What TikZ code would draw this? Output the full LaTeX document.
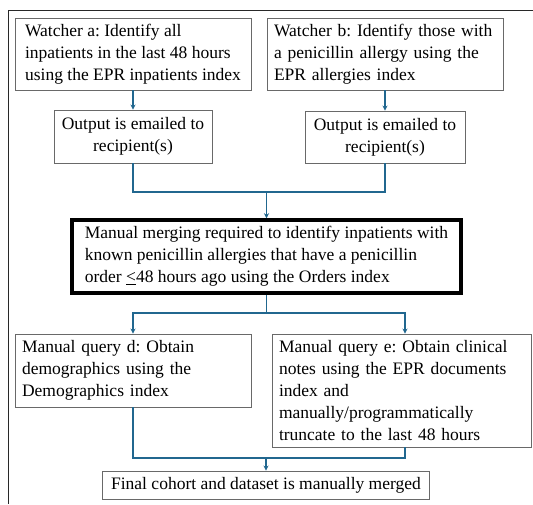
\documentclass[tikz,border=0pt]{standalone}
\usepackage{fontspec}
\setmainfont{Liberation Serif}
\usepackage{tikz}
\usetikzlibrary{arrows.meta,positioning}

\definecolor{linkblue}{RGB}{33,103,143}
\definecolor{boxgray}{RGB}{105,105,105}
\definecolor{framegray}{RGB}{40,40,40}

\tikzset{
  box/.style={draw=boxgray, line width=0.9pt, align=left, inner xsep=7pt, inner ysep=3pt,
    font={\rmfamily\fontsize{17.5}{22}\selectfont\frenchspacing\hyphenpenalty 10000\relax}},
  outbox/.style={box, align=center},
  mergebox/.style={box, draw=black, line width=3.5pt, inner xsep=10pt},
  link/.style={draw=linkblue, line width=1.4pt},
  arr/.style={link, -{Stealth[length=5pt,width=5pt]}}
}

\begin{document}
\begin{tikzpicture}[x=1pt, y=-1pt]
  \useasboundingbox (0,0) rectangle (533,504);
  % frame
  \draw[framegray, line width=1pt] (533,10) -- (8,10) -- (8,504);

  % watchers
  \node[box, minimum width=236pt, minimum height=72pt] (wa) at (133,54)
    {Watcher a: Identify all\\inpatients in the last 48 hours\\using the EPR inpatients index};
  \node[box, text width=222pt, minimum height=72pt] (wb) at (385,54)
    {Watcher b: Identify those with\\a penicillin allergy using the\\EPR allergies index};

  % outputs
  \node[outbox, minimum width=158pt, minimum height=53pt] (oa) at (133,136.5)
    {Output is emailed to\\recipient(s)};
  \node[outbox, minimum width=160pt, minimum height=52pt] (ob) at (385,137)
    {Output is emailed to\\recipient(s)};

  % merge
  \node[mergebox, minimum width=389pt, minimum height=73pt] (merge) at (266.5,256.5)
    {Manual merging required to identify inpatients with\\known penicillin allergies that have a penicillin\\order \underline{<}48 hours ago using the Orders index};

  % queries
  \node[box, text width=222pt, minimum height=73pt] (qd) at (133,370.5)
    {Manual query d: Obtain\\demographics using the\\Demographics index};
  \node[box, text width=245pt, minimum height=113pt] (qe) at (401.5,390.5)
    {Manual query e: Obtain clinical\\notes using the EPR documents\\index and\\manually/programmatically\\truncate to the last 48 hours};

  % final
  \node[outbox, minimum width=327pt, minimum height=28pt] (fin) at (266,485)
    {Final cohort and dataset is manually merged};

  \coordinate (join1) at (266.5,192);
  \coordinate (split) at (266.5,313);
  \coordinate (join2) at (266,458);

  \draw[arr] (wa) -- (oa);
  \draw[arr] (wb) -- (ob);
  \draw[link] (oa.south) |- (join1) -| (ob.south);
  \draw[arr] (join1) -- (merge);
  \draw[link] (merge.south) -- (split);
  \draw[arr] (split) -| ([xshift=3.5pt]qe.north);
  \draw[arr] (split) -| (qd.north);
  \draw[link] (qd.south) |- (join2) -| ([xshift=3.5pt]qe.south);
  \draw[arr] (join2) -- (fin);
\end{tikzpicture}
\end{document}
